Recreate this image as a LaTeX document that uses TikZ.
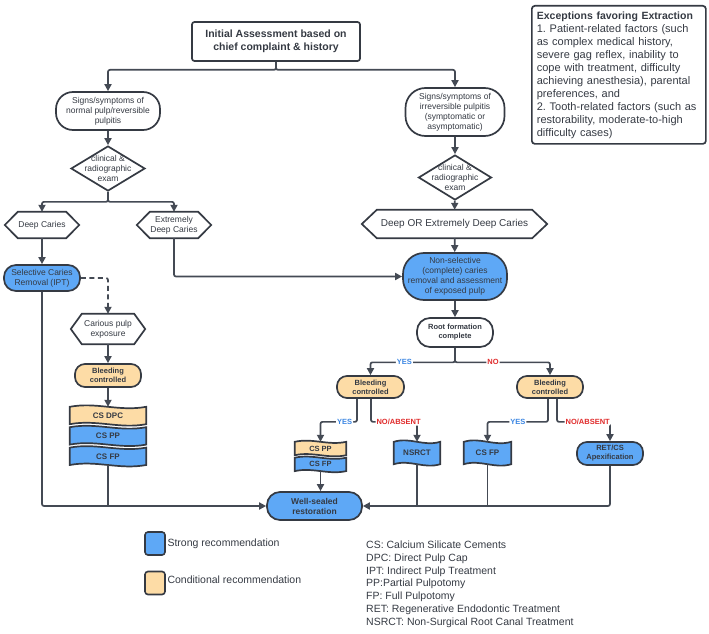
\documentclass[tikz,border=0pt]{standalone}
\usepackage{fontspec}
\setmainfont{Liberation Sans}
\usetikzlibrary{arrows.meta, positioning, backgrounds, shapes.geometric, calc}
\definecolor{pdblue}{HTML}{5EA8F6}
\definecolor{pdpeach}{HTML}{FDDCA6}
\definecolor{pddark}{HTML}{353A43}
\definecolor{pdline}{HTML}{444A54}
\definecolor{pdyes}{HTML}{3B86E3}
\definecolor{pdno}{HTML}{E02B2B}
\tikzset{
  startbox/.style={rectangle, rounded corners=2.5pt, draw=pddark, line width=1.7pt, fill=white,
    minimum width=168pt, minimum height=39pt, align=center, text=pddark,
    font=\fontsize{10.5}{13}\selectfont\bfseries},
  pill/.style={rectangle, draw=pddark, line width=1.7pt, fill=white, align=center, inner sep=1pt,
    text=pddark, font=\fontsize{8.5}{10}\selectfont},
  smallpill/.style={pill, font=\fontsize{7.5}{9}\selectfont\bfseries},
  dia/.style={diamond, draw=pddark, line width=1.7pt, fill=white, inner sep=0pt,
    minimum width=74pt, minimum height=45pt},
  diatext/.style={align=center, text=pddark, font=\fontsize{8.5}{10}\selectfont},
  hexa/.style={rectangle, inner sep=0pt, align=center, text=pddark, font=\fontsize{8.5}{10}\selectfont},
  wavebox/.style={rectangle, inner sep=0pt, align=center, text=pddark,
    font=\fontsize{8}{9}\selectfont\bfseries},
  shapeline/.style={draw=pddark, line width=1.7pt},
  conn/.style={-{Triangle[length=7pt, width=7pt]}, line width=1.7pt, draw=pdline, rounded corners=2pt},
  plain/.style={line width=1.7pt, draw=pdline, rounded corners=2pt},
  yeslbl/.style={fill=white, inner sep=1pt, text=pdyes, font=\fontsize{7.5}{9}\selectfont\bfseries},
  nolbl/.style={fill=white, inner sep=1pt, text=pdno, font=\fontsize{7.5}{9}\selectfont\bfseries},
  legbox/.style={rectangle, rounded corners=3pt, draw=pddark, line width=1.6pt,
    minimum width=20pt, minimum height=23pt, inner sep=0pt},
  legtext/.style={text=pddark, inner sep=0pt, font=\fontsize{10.5}{12}\selectfont},
}
% outlines drawn behind the text-only nodes
\newcommand{\hexout}[2]{%
  \draw[shapeline, fill=white] (#1.west) -- ([xshift=#2]#1.north west) -- ([xshift=-#2]#1.north east)
    -- (#1.east) -- ([xshift=-#2]#1.south east) -- ([xshift=#2]#1.south west) -- cycle;}
\newcommand{\waveout}[3]{%
  \draw[shapeline, fill=#2] (#1.north west)
    .. controls ($(#1.north west)!0.35!(#1.north east)+(0,-#3)$) and ($(#1.north west)!0.65!(#1.north east)+(0,#3)$) .. (#1.north east)
    -- (#1.south east)
    .. controls ($(#1.south west)!0.65!(#1.south east)+(0,#3)$) and ($(#1.south west)!0.35!(#1.south east)+(0,-#3)$) .. (#1.south west)
    -- cycle;}

\begin{document}
\begin{tikzpicture}[x=1pt, y=-1pt, font=\fontsize{8.5}{10}\selectfont]
  \useasboundingbox (0,0) rectangle (709,634);

  % top
  \node[startbox] (init) at (276,41.5) {Initial Assessment based on\\chief complaint \& history};

  % left branch
  \node[pill, minimum width=104pt, minimum height=38pt, rounded corners=17pt] (sign1) at (108,111)
    {Signs/symptoms of\\normal pulp/reversible\\pulpitis};
  \node[dia] (exam1) at (108,168.5) {};
  \node[diatext] (exam1t) at (exam1) {clinical \&\\radiographic\\exam};
  \node[hexa, minimum width=74pt, minimum height=26pt] (deep1) at (42,225) {Deep Caries};
  \node[hexa, minimum width=74pt, minimum height=26pt] (deep2) at (174,225) {Extremely\\Deep Caries};
  \node[pill, fill=pdblue, minimum width=76pt, minimum height=26pt, rounded corners=12pt] (sel) at (42,278)
    {Selective Caries\\Removal (IPT)};
  \node[hexa, minimum width=74pt, minimum height=30pt] (carious) at (108,329) {Carious pulp\\exposure};
  \node[smallpill, fill=pdpeach, minimum width=66pt, minimum height=23pt, rounded corners=10pt] (bleed1) at (108,375.5)
    {Bleeding\\controlled};
  \node[wavebox, minimum width=76pt, minimum height=17pt] (dpc) at (108,415.5) {CS DPC};
  \node[wavebox, minimum width=76pt, minimum height=17pt, below=3pt of dpc] (pp1) {CS PP};
  \node[wavebox, minimum width=76pt, minimum height=17pt, below=3pt of pp1] (fp1) {CS FP};

  % right branch
  \node[pill, minimum width=99pt, minimum height=48pt, rounded corners=20pt] (sign2) at (455,112)
    {Signs/symptoms of\\irreversible pulpitis\\(symptomatic or\\asymptomatic)};
  \node[dia, minimum width=73pt] (exam2) at (455,177.5) {};
  \node[diatext] (exam2t) at (exam2) {clinical \&\\radiographic\\exam};
  \node[hexa, minimum width=185pt, minimum height=28pt, font=\fontsize{10}{12}\selectfont] (deep3) at (454.5,224)
    {Deep OR Extremely Deep Caries};
  \node[pill, fill=pdblue, minimum width=104pt, minimum height=47pt, rounded corners=21pt] (nonsel) at (455,276.5)
    {Non-selective\\(complete) caries\\removal and assessment\\of exposed pulp};
  \node[smallpill, minimum width=76pt, minimum height=29pt, rounded corners=13pt] (root) at (455,332.5)
    {Root formation\\complete};
  \node[smallpill, fill=pdpeach, minimum width=67pt, minimum height=22pt, rounded corners=10pt] (bleed2) at (370.5,387)
    {Bleeding\\controlled};
  \node[smallpill, fill=pdpeach, minimum width=66pt, minimum height=22pt, rounded corners=10pt] (bleed3) at (550,387)
    {Bleeding\\controlled};
  \node[wavebox, minimum width=51pt, minimum height=13pt, font=\fontsize{7.5}{9}\selectfont\bfseries] (pp2) at (320.5,448.5) {CS PP};
  \node[wavebox, minimum width=51pt, minimum height=13pt, font=\fontsize{7.5}{9}\selectfont\bfseries, below=2.5pt of pp2] (fp2) {CS FP};
  \node[wavebox, minimum width=46pt, minimum height=22pt] (nsrct) at (417,453) {NSRCT};
  \node[wavebox, minimum width=47pt, minimum height=22pt] (fp3) at (487.5,453) {CS FP};
  \node[smallpill, fill=pdblue, minimum width=66pt, minimum height=23pt, rounded corners=10pt] (ret) at (610,453.5)
    {RET/CS\\Apexification};
  \node[smallpill, fill=pdblue, minimum width=95pt, minimum height=28pt, rounded corners=13pt,
    font=\fontsize{8.5}{10}\selectfont\bfseries] (seal) at (314.5,506) {Well-sealed\\restoration};

  % side boxes
  \node[rectangle, rounded corners=3pt, draw=pddark, line width=1.7pt, anchor=north west, text width=164pt,
    inner sep=5pt, minimum height=138pt, align=left, text=pddark, font=\fontsize{11}{13}\selectfont] (except) at (531,5)
    {{\fontsize{10.5}{13}\selectfont\bfseries Exceptions favoring Extraction}\\
     1.\ Patient-related factors (such\\
     as complex medical history,\\
     severe gag reflex, inability to\\
     cope with treatment, difficulty\\
     achieving anesthesia), parental\\
     preferences, and\\
     2.\ Tooth-related factors (such as\\
     restorability, moderate-to-high\\
     difficulty cases)};
  \node[legbox, fill=pdblue] (legstrong) at (155,543.5) {};
  \node[legtext, right=1.5pt of legstrong] (legstrongt) {Strong recommendation};
  \node[legbox, fill=pdpeach] (legcond) at (155,583) {};
  \node[legtext, right=1.5pt of legcond, yshift=3pt] (legcondt) {Conditional recommendation};
  \node[anchor=north west, inner sep=0pt, align=left, text=pddark, font=\fontsize{10.5}{12.7}\selectfont] (abbr) at (366,541)
    {CS: Calcium Silicate Cements\\
     DPC: Direct Pulp Cap\\
     IPT: Indirect Pulp Treatment\\
     PP:Partial Pulpotomy\\
     FP: Full Pulpotomy\\
     RET: Regenerative Endodontic Treatment\\
     NSRCT: Non-Surgical Root Canal Treatment};

  \begin{scope}[on background layer]
    \hexout{deep1}{13pt}
    \hexout{deep2}{13pt}
    \hexout{carious}{11pt}
    \hexout{deep3}{15pt}
    \waveout{dpc}{pdpeach}{5}
    \waveout{pp1}{pdblue}{5}
    \waveout{fp1}{pdblue}{5}
    \waveout{pp2}{pdpeach}{4}
    \waveout{fp2}{pdblue}{4}
    \waveout{nsrct}{pdblue}{5}
    \waveout{fp3}{pdblue}{5}
  \end{scope}

  % connectors
  \draw[conn] (init.south) -- ++(0,8) -| (sign1.north);
  \draw[conn] (init.south) -- ++(0,8) -| (sign2.north);
  \draw[conn] (sign1) -- (exam1);
  \draw[conn] (exam1.south) -- ++(0,10) -| (deep1.north);
  \draw[conn] (exam1.south) -- ++(0,10) -| (deep2.north);
  \draw[conn] (deep1) -- (sel);
  \draw[conn] (deep2.south) |- (nonsel.west);
  \draw[conn, dash pattern=on 5pt off 3.5pt] (sel.east) -| (carious.north);
  \draw[conn] (carious) -- (bleed1);
  \draw[conn] (bleed1) -- (dpc);
  \draw[conn] (sel.south) |- (seal.west);
  \draw[plain] (fp1.south) -- (fp1.south |- seal.west);

  \draw[conn] (sign2) -- (exam2);
  \draw[conn] (exam2) -- (deep3);
  \draw[conn] (deep3) -- (nonsel);
  \draw[conn] (nonsel) -- (root);
  \draw[conn] (root.south) -- ++(0,14.5) -| node[yeslbl, pos=0.3] {YES} (bleed2.north);
  \draw[conn] (root.south) -- ++(0,14.5) -| node[nolbl, pos=0.2] {NO} (bleed3.north);

  \draw[conn] ([xshift=-13.5pt]bleed2.south) -- ++(0,23) -| node[yeslbl, pos=0.17] {YES} (pp2.north);
  \draw[conn] ([xshift=0.5pt]bleed2.south) -- ++(0,23) -| node[nolbl, pos=0.3] {NO/ABSENT} (nsrct.north);
  \draw[conn] ([xshift=-2pt]bleed3.south) -- ++(0,23) -| node[yeslbl, pos=0.25] {YES} (fp3.north);
  \draw[conn] ([xshift=7pt]bleed3.south) -- ++(0,23) -| node[nolbl, pos=0.29] {NO/ABSENT} (ret.north);

  \draw[conn] (fp2.south) -- (fp2.south |- seal.north);
  \draw[conn] (ret.south) |- (seal.east);
  \draw[plain] (nsrct.south) -- (nsrct.south |- seal.east);
  \draw[plain] (fp3.south) -- (fp3.south |- seal.east);
\end{tikzpicture}
\end{document}
